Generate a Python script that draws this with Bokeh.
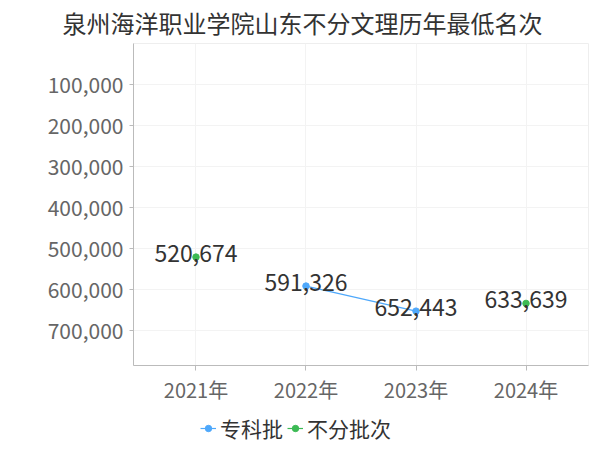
import math
from bokeh.plotting import figure
from bokeh.layouts import column
from bokeh.models import (FactorRange, Range1d, FixedTicker, NumeralTickFormatter,
                          Legend, LegendItem, ColumnDataSource, Title)
from bokeh.core.properties import value
from bokeh.embed import file_html
from bokeh.resources import INLINE

# ---- data ----
title_text = "泉州海洋职业学院山东不分文理历年最低名次"
years = ["2021年", "2022年", "2023年", "2024年"]
series_names = ["专科批", "不分批次"]
zhuanke = [None, 591326, 652443, None]
bufen = [520674, None, None, 633639]
y_ticks = [100000, 200000, 300000, 400000, 500000, 600000, 700000]
colors = ["#4ea8fb", "#3cba54"]

FONT = "Noto Sans CJK SC"

p = figure(width=592, height=406, output_backend="svg", toolbar_location=None,
           x_range=FactorRange(*years, range_padding=0.034, range_padding_units="percent"),
           y_range=Range1d(start=785000, end=0),
           min_border_left=133, min_border_right=4, min_border_top=43, min_border_bottom=38)
p.title = Title(text=title_text, align="left", offset=-71, vertical_align="top", standoff=4,
                text_font=FONT, text_font_size="24px", text_color="#333333",
                text_font_style="normal")

p.outline_line_color = "#eeeeee"
p.xgrid.grid_line_color = "#f3f3f3"
p.ygrid.grid_line_color = "#f3f3f3"
p.ygrid.ticker = FixedTicker(ticks=y_ticks)

ax = p.yaxis[0]
ax.ticker = FixedTicker(ticks=y_ticks)
ax.formatter = NumeralTickFormatter(format="0,0")
ax.major_label_text_font = FONT
ax.major_label_text_font_size = "21px"
ax.major_label_text_color = "#666666"
ax.axis_line_color = "#bbbbbb"
ax.major_tick_line_color = "#bbbbbb"
ax.major_tick_out = 4
ax.major_tick_in = 0
ax.minor_tick_line_color = None
ax.major_label_standoff = 6

xa = p.xaxis[0]
xa.major_label_text_font = FONT
xa.major_label_text_font_size = "20px"
xa.major_label_text_color = "#666666"
xa.axis_line_color = "#bbbbbb"
xa.major_tick_line_color = "#bbbbbb"
xa.major_tick_out = 5
xa.major_tick_in = 0
xa.major_label_standoff = 4

def nan(v):
    return float("nan") if v is None else v

for name, vals, col in zip(series_names, [zhuanke, bufen], colors):
    ys = [nan(v) for v in vals]
    src = ColumnDataSource(dict(x=years, y=ys))
    p.line("x", "y", source=src, line_color=col, line_width=1.2)
    pts_x = [x for x, v in zip(years, vals) if v is not None]
    pts_y = [v for v in vals if v is not None]
    psrc = ColumnDataSource(dict(x=pts_x, y=pts_y, t=[f"{v:,}" for v in pts_y]))
    p.scatter("x", "y", source=psrc, size=6.5, fill_color=col, line_color=col)
    p.text("x", "y", text="t", source=psrc, text_font=value(FONT), text_font_size="23px",
           text_color="#333333", text_align="center", text_baseline="alphabetic", y_offset=-4)

# ---- legend strip (separate small figure under the chart) ----
q = figure(width=592, height=36, output_backend="svg", toolbar_location=None,
           x_range=Range1d(0, 1), y_range=Range1d(0, 1),
           x_axis_type=None, y_axis_type=None,
           min_border=0, min_border_left=0, min_border_right=0,
           min_border_top=0, min_border_bottom=0)
q.outline_line_color = None
q.grid.visible = False
items = []
for name, col in zip(series_names, colors):
    # proxy renderers placed outside the strip's visible range: only their legend swatch shows
    ln = q.line(x=[-5, -4], y=[-5, -5], line_color=col, line_width=1.2)
    sc = q.scatter(x=[-5], y=[-5], size=6.5, fill_color=col, line_color=col)
    items.append(LegendItem(label=name, renderers=[ln, sc]))
legend = Legend(items=items, orientation="horizontal", location=(67, -1),
                label_text_font=FONT, label_text_font_size="21px", label_text_color="#333333",
                border_line_color=None, background_fill_alpha=0,
                glyph_width=16, glyph_height=16, label_standoff=4, spacing=4,
                padding=0, margin=0)
q.add_layout(legend, "center")

layout = column(p, q, spacing=0)
open("out.html", "w").write(file_html(layout, INLINE))
